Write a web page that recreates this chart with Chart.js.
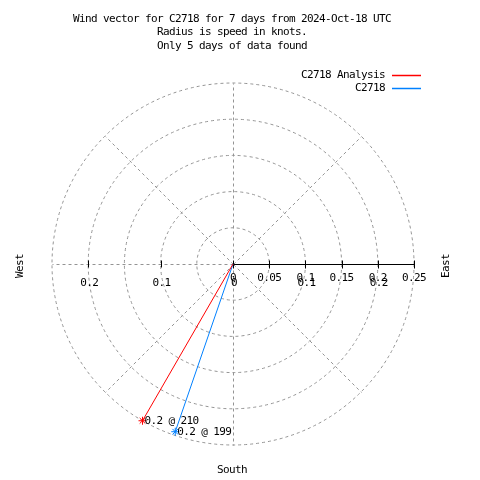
<!DOCTYPE html>
<html>
<head>
<meta charset="utf-8">
<script src="https://cdn.jsdelivr.net/npm/chart.js@4"></script>
<style>
  html, body { margin: 0; padding: 0; background: #fff; }
  canvas { display: block; }
</style>
</head>
<body>
<canvas id="windChart" width="480" height="480"></canvas>
<script>
// values
const TITLE_LINES = [
    'Wind vector for C2718 for 7 days from 2024-Oct-18 UTC',
    'Radius is speed in knots.',
    'Only 5 days of data found'
];
const SERIES_NAMES = ['C2718 Analysis', 'C2718'];
const SERIES_COLORS = ['#ff0000', '#0080ff'];
const SPEEDS = [0.25, 0.245];          // knots
const DIRECTIONS = [210, 199];         // degrees
const POINT_LABELS = ['0.2 @ 210', '0.2 @ 199'];

const RING_VALUES = [0.05, 0.1, 0.15, 0.2, 0.25];
const SPOKE_ANGLES = [0, 45, 90, 135, 180, 225, 270, 315];
const X_TICKS = [0, 0.05, 0.1, 0.15, 0.2, 0.25];
const X_TICK_LABELS = ['0', '0.05', '0.1', '0.15', '0.2', '0.25'];
const R_TICKS = [-0.2, -0.1, 0, 0.1, 0.2];
const R_TICK_LABELS = ['0.2', '0.1', '0', '0.1', '0.2'];
const R_MAX = 0.25;

(function () {
    const canvas = document.getElementById('windChart');
    const FONT = '11px "DejaVu Sans Mono", monospace';
    const GRID = '#949494';

    const datasets = SPEEDS.map((s, i) => {
        const rad = DIRECTIONS[i] * Math.PI / 180;
        return {
            label: SERIES_NAMES[i],
            data: [{ x: 0, y: 0 }, { x: s * Math.sin(rad), y: s * Math.cos(rad) }],
            showLine: true,
            borderColor: SERIES_COLORS[i],
            backgroundColor: SERIES_COLORS[i],
            borderWidth: 1,
            pointStyle: 'star',
            pointRadius: [0, 4],
            pointBorderWidth: 1,
            pointHoverRadius: 0,
            tension: 0
        };
    });

    const setFont = (ctx) => {
        ctx.font = FONT;
        if ('letterSpacing' in ctx) ctx.letterSpacing = '-0.62px';
    };

    const polarGrid = {
        id: 'polarGrid',
        beforeDatasetsDraw(chart) {
            const ctx = chart.ctx;
            const xs = chart.scales.x;
            const ys = chart.scales.y;
            const cx = xs.getPixelForValue(0);
            const cy = ys.getPixelForValue(0);
            ctx.save();
            ctx.strokeStyle = GRID;
            ctx.lineWidth = 1;
            ctx.setLineDash([3, 3]);
            RING_VALUES.forEach((r) => {
                const pr = xs.getPixelForValue(r) - cx;
                ctx.beginPath();
                ctx.arc(cx, cy, pr, 0, Math.PI * 2);
                ctx.stroke();
            });
            const outer = xs.getPixelForValue(R_MAX) - cx;
            SPOKE_ANGLES.forEach((a) => {
                const rad = a * Math.PI / 180;
                ctx.beginPath();
                ctx.moveTo(Math.round(cx) + 0.5, Math.round(cy) + 0.5);
                ctx.lineTo(cx + outer * Math.sin(rad) + 0.5, cy - outer * Math.cos(rad) + 0.5);
                ctx.stroke();
            });
            ctx.setLineDash([]);

            // solid axis on the east side
            const y0 = Math.round(cy) + 0.5;
            ctx.strokeStyle = '#000';
            ctx.beginPath();
            ctx.moveTo(cx, y0);
            ctx.lineTo(xs.getPixelForValue(R_MAX), y0);
            ctx.stroke();
            X_TICKS.forEach((v) => {
                const px = Math.round(xs.getPixelForValue(v)) + 0.5;
                ctx.beginPath();
                ctx.moveTo(px, y0 - 4);
                ctx.lineTo(px, y0 + 4);
                ctx.stroke();
            });
            R_TICKS.filter((v) => v < 0).forEach((v) => {
                const px = Math.round(xs.getPixelForValue(v)) + 0.5;
                ctx.beginPath();
                ctx.moveTo(px, y0 - 4);
                ctx.lineTo(px, y0 + 3);
                ctx.stroke();
            });
            ctx.restore();
        },
        afterDatasetsDraw(chart) {
            const ctx = chart.ctx;
            const xs = chart.scales.x;
            const ys = chart.scales.y;
            const cy = ys.getPixelForValue(0);
            ctx.save();
            setFont(ctx);
            ctx.fillStyle = '#000';
            ctx.textBaseline = 'middle';

            ctx.textAlign = 'center';
            TITLE_LINES.forEach((t, i) => ctx.fillText(t, 232, 19 + i * 13.5));

            X_TICKS.forEach((v, i) => ctx.fillText(X_TICK_LABELS[i], xs.getPixelForValue(v), cy + 14));
            R_TICKS.forEach((v, i) => ctx.fillText(R_TICK_LABELS[i], xs.getPixelForValue(v) + 1, cy + 19));

            ctx.fillText('South', 232, 470);
            ctx.save();
            ctx.translate(20, 266);
            ctx.rotate(-Math.PI / 2);
            ctx.fillText('West', 0, 0);
            ctx.restore();
            ctx.save();
            ctx.translate(446, 266);
            ctx.rotate(-Math.PI / 2);
            ctx.fillText('East', 0, 0);
            ctx.restore();

            // legend
            ctx.textAlign = 'right';
            SERIES_NAMES.forEach((name, i) => {
                const y = 75 + i * 13;
                ctx.fillStyle = '#000';
                ctx.fillText(name, 385, y);
                ctx.strokeStyle = SERIES_COLORS[i];
                ctx.lineWidth = 1.5;
                ctx.beginPath();
                ctx.moveTo(392, y + 0.5);
                ctx.lineTo(421, y + 0.5);
                ctx.stroke();
            });

            // labels at vector tips
            ctx.textAlign = 'left';
            ctx.fillStyle = '#000';
            chart.data.datasets.forEach((ds, i) => {
                const tip = chart.getDatasetMeta(i).data[1];
                ctx.fillText(POINT_LABELS[i], tip.x + 2, tip.y);
            });
            ctx.restore();
        }
    };

    new Chart(canvas, {
        type: 'scatter',
        data: { datasets },
        options: {
            responsive: false,
            animation: false,
            events: [],
            layout: { padding: { left: 52, top: 83, right: 66, bottom: 35 } },
            scales: {
                x: { type: 'linear', min: -R_MAX, max: R_MAX, display: false },
                y: { type: 'linear', min: -R_MAX, max: R_MAX, display: false }
            },
            plugins: {
                legend: { display: false },
                tooltip: { enabled: false }
            }
        },
        plugins: [polarGrid]
    });
})();
</script>
</body>
</html>
